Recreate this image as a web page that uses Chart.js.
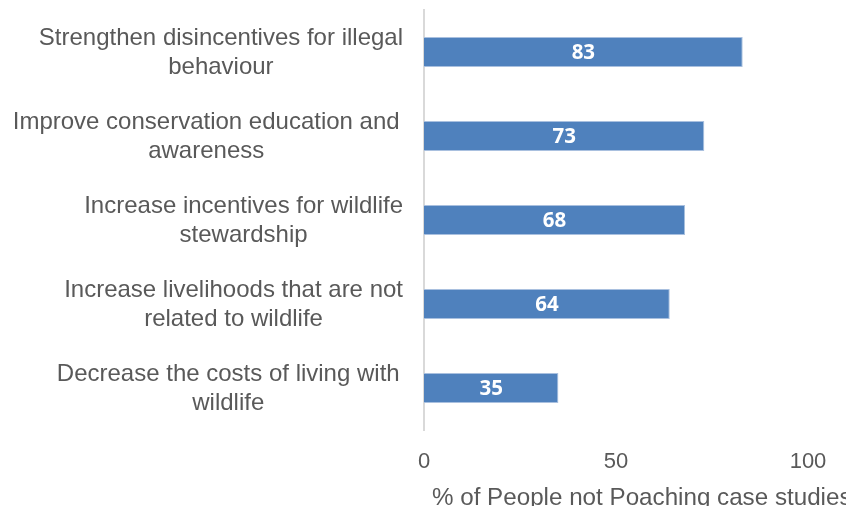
<!DOCTYPE html>
<html>
<head>
<meta charset="utf-8">
<script src="https://cdn.jsdelivr.net/npm/chart.js@4.4.0/dist/chart.umd.min.js"></script>
<style>
  html, body { margin: 0; padding: 0; background: #fff; overflow: hidden; }
  #wrap { width: 846px; height: 506px; position: relative; }
</style>
</head>
<body>
<div id="wrap"><canvas id="chart"></canvas></div>
<script>
  // chart data
  const categories = [
    ['Strengthen disincentives for illegal', 'behaviour'],
    ['Improve conservation education and ', 'awareness'],
    ['Increase incentives for wildlife', 'stewardship'],
    ['Increase livelihoods that are not', 'related to wildlife'],
    ['Decrease the costs of living with ', 'wildlife']
  ];
  const values = [83, 73, 68, 64, 35];
  const xTicks = [0, 50, 100];
  const axisTitle = '% of People not Poaching case studies';

  const textColor = '#595959';
  const sansFont = '"Liberation Sans", Arial, sans-serif';

  // category labels (centered per block), value labels and axis title
  const textPlugin = {
    id: 'textPlugin',
    afterDatasetsDraw: function (chart) {
      const ctx = chart.ctx;
      const x = chart.scales.x;
      const y = chart.scales.y;
      ctx.save();

      ctx.font = '24px ' + sansFont;
      ctx.fillStyle = textColor;
      ctx.textAlign = 'center';
      ctx.textBaseline = 'middle';
      const right = y.right - 21;
      categories.forEach(function (lines, i) {
        const w = Math.max.apply(null, lines.map(function (l) { return ctx.measureText(l).width; }));
        const cx = right - w / 2;
        const cy = y.getPixelForTick(i);
        lines.forEach(function (l, j) {
          ctx.fillText(l.trim(), cx, cy + 1 + (j - (lines.length - 1) / 2) * 29);
        });
      });

      ctx.font = 'bold 20.5px "Open Sans", sans-serif';
      ctx.fillStyle = '#ffffff';
      chart.getDatasetMeta(0).data.forEach(function (bar, i) {
        ctx.fillText(String(values[i]), (bar.x + bar.base) / 2, bar.y + 1);
      });

      ctx.font = '24.2px ' + sansFont;
      ctx.fillStyle = textColor;
      ctx.textAlign = 'left';
      ctx.textBaseline = 'alphabetic';
      ctx.fillText(axisTitle, x.left + 8, chart.height - 1);

      ctx.restore();
    }
  };

  new Chart(document.getElementById('chart'), {
    type: 'bar',
    data: {
      labels: categories,
      datasets: [{
        data: values,
        backgroundColor: '#4F81BD',
        borderColor: '#A9C0DF',
        borderWidth: 1,
        categoryPercentage: 1,
        barPercentage: 0.355
      }]
    },
    options: {
      indexAxis: 'y',
      responsive: true,
      maintainAspectRatio: false,
      animation: false,
      layout: { padding: { top: 10, right: 38, left: 0, bottom: 0 } },
      plugins: {
        legend: { display: false },
        title: { display: false },
        tooltip: { enabled: false }
      },
      scales: {
        x: {
          min: xTicks[0],
          max: xTicks[xTicks.length - 1],
          afterBuildTicks: function (scale) {
            scale.ticks = xTicks.map(function (v) { return { value: v }; });
          },
          afterFit: function (scale) { scale.height = 76; },
          grid: { display: false },
          border: { display: false },
          ticks: {
            color: textColor,
            font: { family: sansFont, size: 22 },
            padding: 11,
            maxRotation: 0
          }
        },
        y: {
          afterFit: function (scale) { scale.width = 424; },
          grid: { display: false },
          border: { display: true, color: '#D9D9D9', width: 2 },
          ticks: { display: false }
        }
      }
    },
    plugins: [textPlugin]
  });
</script>
</body>
</html>
